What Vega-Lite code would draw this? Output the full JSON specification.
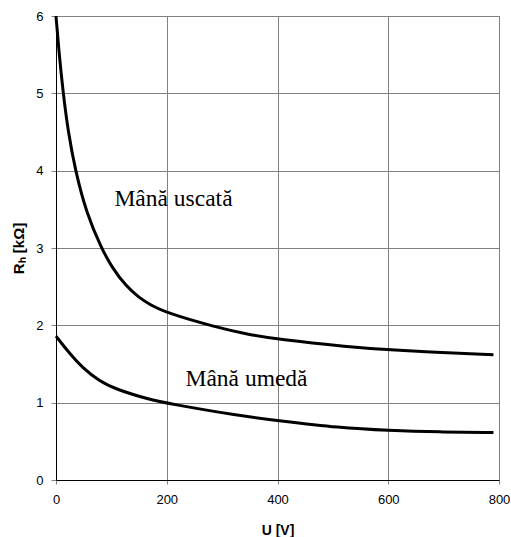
{
  "$schema": "https://vega.github.io/schema/vega-lite/v6.json",
  "autosize": "none",
  "width": 443,
  "height": 464,
  "padding": {"left": 56, "top": 16, "right": 12, "bottom": 57},
  "background": "white",
  "config": {
    "view": {"stroke": "#808080", "strokeWidth": 1},
    "font": "Liberation Sans"
  },
  "datasets": {
    "curves": [
      {"U": 0, "R": 6.0, "s": "uscata"},
      {"U": 5, "R": 5.56, "s": "uscata"},
      {"U": 13, "R": 5.0, "s": "uscata"},
      {"U": 22, "R": 4.5, "s": "uscata"},
      {"U": 35, "R": 4.0, "s": "uscata"},
      {"U": 55, "R": 3.45, "s": "uscata"},
      {"U": 82, "R": 3.0, "s": "uscata"},
      {"U": 100, "R": 2.76, "s": "uscata"},
      {"U": 127, "R": 2.5, "s": "uscata"},
      {"U": 150, "R": 2.36, "s": "uscata"},
      {"U": 169, "R": 2.27, "s": "uscata"},
      {"U": 200, "R": 2.16, "s": "uscata"},
      {"U": 289, "R": 1.975, "s": "uscata"},
      {"U": 349, "R": 1.88, "s": "uscata"},
      {"U": 400, "R": 1.82, "s": "uscata"},
      {"U": 530, "R": 1.72, "s": "uscata"},
      {"U": 600, "R": 1.68, "s": "uscata"},
      {"U": 790, "R": 1.62, "s": "uscata"},
      {"U": 0, "R": 1.86, "s": "umeda"},
      {"U": 24, "R": 1.64, "s": "umeda"},
      {"U": 48, "R": 1.45, "s": "umeda"},
      {"U": 78, "R": 1.28, "s": "umeda"},
      {"U": 109, "R": 1.17, "s": "umeda"},
      {"U": 169, "R": 1.04, "s": "umeda"},
      {"U": 202, "R": 0.99, "s": "umeda"},
      {"U": 331, "R": 0.83, "s": "umeda"},
      {"U": 400, "R": 0.77, "s": "umeda"},
      {"U": 512, "R": 0.675, "s": "umeda"},
      {"U": 600, "R": 0.64, "s": "umeda"},
      {"U": 692, "R": 0.62, "s": "umeda"},
      {"U": 790, "R": 0.615, "s": "umeda"}
    ],
    "labels": [
      {"U": 105.6, "R": 3.54, "t": "Mână uscată"},
      {"U": 233.9, "R": 1.22, "t": "Mână umedă"}
    ]
  },
  "layer": [
    {
      "data": {"name": "curves"},
      "mark": {"type": "line", "color": "black", "strokeWidth": 3, "interpolate": "basis"},
      "encoding": {
        "x": {
          "field": "U", "type": "quantitative",
          "scale": {"domain": [0, 800], "nice": false},
          "axis": {
            "values": [0, 200, 400, 600, 800],
            "format": "d",
            "title": "U [V]",
            "titleFont": "Liberation Sans", "titleFontSize": 14, "titleFontWeight": "bold", "titleColor": "black",
            "titlePadding": 17,
            "labelFont": "Liberation Sans", "labelFontSize": 13, "labelColor": "black",
            "labelFlush": false, "labelPadding": 9,
            "tickSize": 4, "tickColor": "#808080",
            "domainColor": "black", "domainWidth": 1,
            "grid": true, "gridColor": "#808080", "gridOpacity": 1, "gridWidth": 1
          }
        },
        "y": {
          "field": "R", "type": "quantitative",
          "scale": {"domain": [0, 6], "nice": false},
          "axis": {
            "values": [0, 1, 2, 3, 4, 5, 6],
            "format": "d",
            "title": "Rₕ [kΩ]",
            "titleFont": "Liberation Sans", "titleFontSize": 15, "titleFontWeight": "bold", "titleColor": "black",
            "titlePadding": 9,
            "labelFont": "Liberation Sans", "labelFontSize": 13, "labelColor": "black",
            "labelFlush": false, "labelPadding": 8,
            "tickSize": 5, "tickColor": "#808080",
            "domainColor": "black", "domainWidth": 1,
            "grid": true, "gridColor": "#808080", "gridOpacity": 1, "gridWidth": 1
          }
        },
        "detail": {"field": "s"}
      }
    },
    {
      "data": {"name": "labels"},
      "mark": {"type": "text", "align": "left", "baseline": "alphabetic", "font": "Liberation Serif", "fontSize": 23.5, "color": "black"},
      "encoding": {
        "x": {"field": "U", "type": "quantitative"},
        "y": {"field": "R", "type": "quantitative"},
        "text": {"field": "t"}
      }
    }
  ]
}
